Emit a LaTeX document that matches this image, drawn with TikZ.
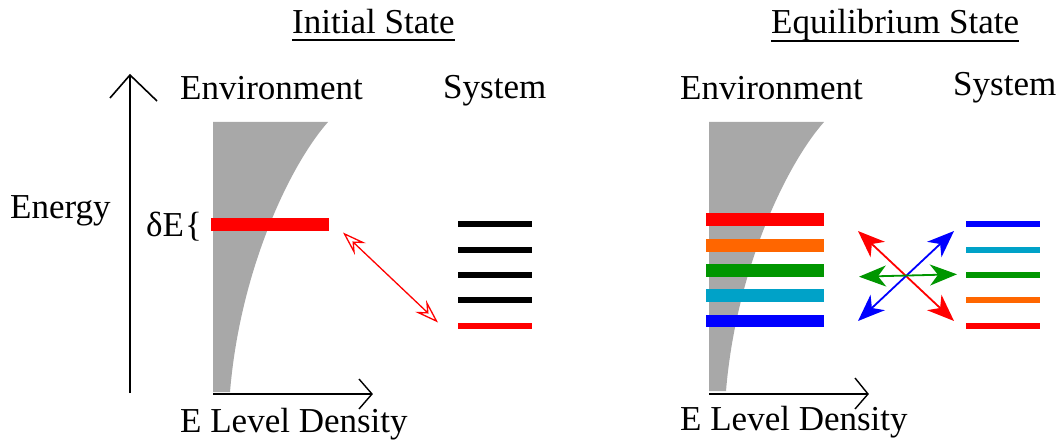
\documentclass[tikz,border=0pt]{standalone}
\usepackage{fontspec}
\setmainfont{Liberation Serif}
\usetikzlibrary{arrows.meta}
\definecolor{dens}{RGB}{168,168,168}
\definecolor{lvred}{RGB}{255,0,0}
\definecolor{lvorange}{RGB}{255,102,0}
\definecolor{lvgreen}{RGB}{0,150,0}
\definecolor{lvcyan}{RGB}{0,162,200}
\definecolor{lvblue}{RGB}{0,0,255}
\tikzset{
  lbl/.style={inner sep=0pt, anchor=base west, font=\rmfamily\fontsize{35}{42}\selectfont},
  envbar/.style={line width=12.5pt},
  sysbar/.style={line width=6pt},
  axis/.style={line width=1.6pt},
  openhead/.style={line width=1.4pt},
  xchg/.style={line width=1.8pt, {Stealth[length=27pt,width=21pt,inset=8pt]}-{Stealth[length=27pt,width=21pt,inset=8pt]}},
  hollow/.style={line width=1.3pt, lvred, {Stealth[open,length=24pt,width=16pt,inset=9pt]}-{Stealth[open,length=24pt,width=16pt,inset=9pt]}},
  uline/.style={line width=1.5pt}
}
\begin{document}
\begin{tikzpicture}[x=1pt,y=-1pt]
\useasboundingbox (0,0) rectangle (1060,441);

% ---------- titles ----------
\node[lbl] (t1) at (292,34) {Initial State};
\node[lbl] (t2) at (771,34) {Equilibrium State};
\draw[uline] ([yshift=-6pt]t1.base west) -- ([yshift=-6pt]t1.base east);
\draw[uline] ([yshift=-7pt]t2.base west) -- ([yshift=-7pt]t2.base east);

% ---------- left panel ----------
\node[lbl] (env1) at (180,100) {Environment};
\node[lbl] (sys1) at (443,99) {System};
\node[lbl] (energy) at (10,218) {Energy};
\node[lbl] (dE) at (146,236) {δE\hspace{1pt}\{};

% energy axis
\coordinate (ea0) at (130,393);
\coordinate (ea1) at (130,75);
\coordinate (eal) at (110,98);
\coordinate (ear) at (157,101);
\draw[axis] (ea0) -- (ea1);
\draw[axis] (eal) -- (ea1) -- (ear);

% density shape
\fill[dens] (213,122) -- (328,122) .. controls (290,165) and (240,270) .. (230,392) -- (213,392) -- cycle;

% density axis
\coordinate (da0) at (213,394);
\coordinate (da1) at (372,394);
\draw[axis] (da0) -- (da1);
\draw[openhead] (359,379) -- (da1) -- (359,409);
\node[lbl] (eld1) at (180,432) {E Level Density};

% red environment level
\coordinate (rb0) at (211,224.5);
\coordinate (rb1) at (329,224.5);
\draw[envbar, lvred] (rb0) -- (rb1);

% system levels
\foreach \y/\c [count=\i] in {224/black,249.5/black,275/black,300/black,325.7/lvred}{
  \draw[sysbar, \c] (458,\y) coordinate (s\i a) -- (532,\y) coordinate (s\i b);
}
\coordinate (ha) at (343,232.5);
\coordinate (hb) at (438,322.5);
\draw[hollow] (ha) -- (hb);

% ---------- right panel ----------
\node[lbl] (env2) at (680,100) {Environment};
\node[lbl] (sys2) at (953,96) {System};

\fill[dens] (709,122) -- (824,122) .. controls (786,165) and (736,270) .. (726,391) -- (709,391) -- cycle;

\coordinate (db0) at (709,394);
\coordinate (db1) at (868,394);
\draw[axis] (db0) -- (db1);
\draw[openhead] (855,378) -- (db1) -- (855,409);
\node[lbl] (eld2) at (680,430) {E Level Density};

\foreach \y/\c in {219.7/lvred,245.3/lvorange,270.5/lvgreen,295.7/lvcyan,321/lvblue}{
  \draw[envbar, \c] (706,\y) -- (824,\y);
}
\foreach \y/\c in {224/lvblue,249.7/lvcyan,275/lvgreen,300/lvorange,325.7/lvred}{
  \draw[sysbar, \c] (966,\y) -- (1040,\y);
}

\coordinate (ra) at (858,231);
\coordinate (rb) at (954,321);
\coordinate (ba) at (954,231);
\coordinate (bb) at (858,321);
\coordinate (ga) at (859,276.7);
\coordinate (gb) at (957,274.3);
\draw[xchg, lvred] (ra) -- (rb);
\draw[xchg, lvblue] (ba) -- (bb);
\draw[xchg, lvgreen] (ga) -- (gb);
\end{tikzpicture}
\end{document}
